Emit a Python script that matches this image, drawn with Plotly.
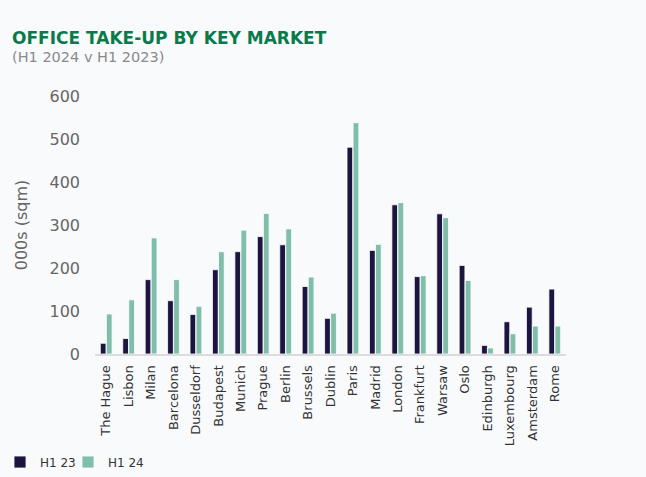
import plotly.graph_objects as go

markets = ["The Hague", "Lisbon", "Milan", "Barcelona", "Dusseldorf", "Budapest", "Munich",
           "Prague", "Berlin", "Brussels", "Dublin", "Paris", "Madrid", "London", "Frankfurt",
           "Warsaw", "Oslo", "Edinburgh", "Luxembourg", "Amsterdam", "Rome"]
h1_23 = [25, 36, 173, 124, 92, 196, 238, 273, 254, 157, 83, 481, 241, 347, 180, 326, 206, 20, 75, 109, 151]
h1_24 = [93, 126, 270, 173, 111, 238, 288, 327, 291, 179, 95, 538, 255, 352, 182, 317, 171, 14, 47, 65, 65]
y_ticks = [0, 100, 200, 300, 400, 500, 600]

W, H = 646, 477
L, R, T, B = 95, 80, 96, 123
pw, ph = W - L - R, H - T - B

def px(x):
    return (x - L) / pw

def py(y):
    return (H - B - y) / ph

font = "DejaVu Sans"
leg_font = dict(size=12, color="#333333", family=font)
fig = go.Figure()
fig.add_trace(go.Bar(name="H1 23", x=markets, y=h1_23, legend="legend",
                     marker=dict(color="#1b1540", line=dict(color="#ffffff", width=0.8))))
fig.add_trace(go.Bar(name="H1 24", x=markets, y=h1_24, legend="legend2",
                     marker=dict(color="#7fbfa9", line=dict(color="#ffffff", width=0.8))))

fig.update_layout(
    width=W, height=H,
    margin=dict(l=L, r=R, t=T, b=B),
    paper_bgcolor="#f9fafc", plot_bgcolor="#f9fafc",
    barmode="group", bargap=0.46, bargroupgap=0.05,
    font=dict(family=font, color="#555555"),
    showlegend=True,
    legend=dict(orientation="h", xref="container", yref="container", x=-5 / W, y=1 - 462 / H,
                xanchor="left", yanchor="middle", font=leg_font, bgcolor="rgba(0,0,0,0)",
                itemwidth=30),
    legend2=dict(orientation="h", xref="container", yref="container", x=68 / W, y=1 - 462 / H,
                 xanchor="left", yanchor="middle", font=leg_font, bgcolor="rgba(0,0,0,0)",
                 itemwidth=30),
    xaxis=dict(tickangle=-90, tickfont=dict(size=13, color="#333333", family=font), showgrid=False,
               showline=True, linecolor="#dcdcdc", linewidth=2, ticks="", ticklabelstandoff=4,
               automargin=False),
    yaxis=dict(range=[0, 600], tickvals=y_ticks, tickfont=dict(size=16, color="#666666"),
               showgrid=False, zeroline=False, showline=False, ticks="", ticklabelstandoff=14,
               automargin=False,
               title=dict(text="000s (sqm)", font=dict(size=16, color="#666666"), standoff=17)),
    annotations=[
        dict(text="<b>OFFICE TAKE-UP BY KEY MARKET</b>", xref="paper", yref="paper",
             x=px(10), y=py(26), xanchor="left", yanchor="top", showarrow=False,
             font=dict(size=17, color="#0b7a4b", family=font)),
        dict(text="(H1 2024 v H1 2023)", xref="paper", yref="paper",
             x=px(10), y=py(47), xanchor="left", yanchor="top", showarrow=False,
             font=dict(size=14.5, color="#8a8a8a", family=font)),
    ],
)

fig.write_html("out.html", config={"displayModeBar": False},
               post_script="document.body.style.margin='0';")
